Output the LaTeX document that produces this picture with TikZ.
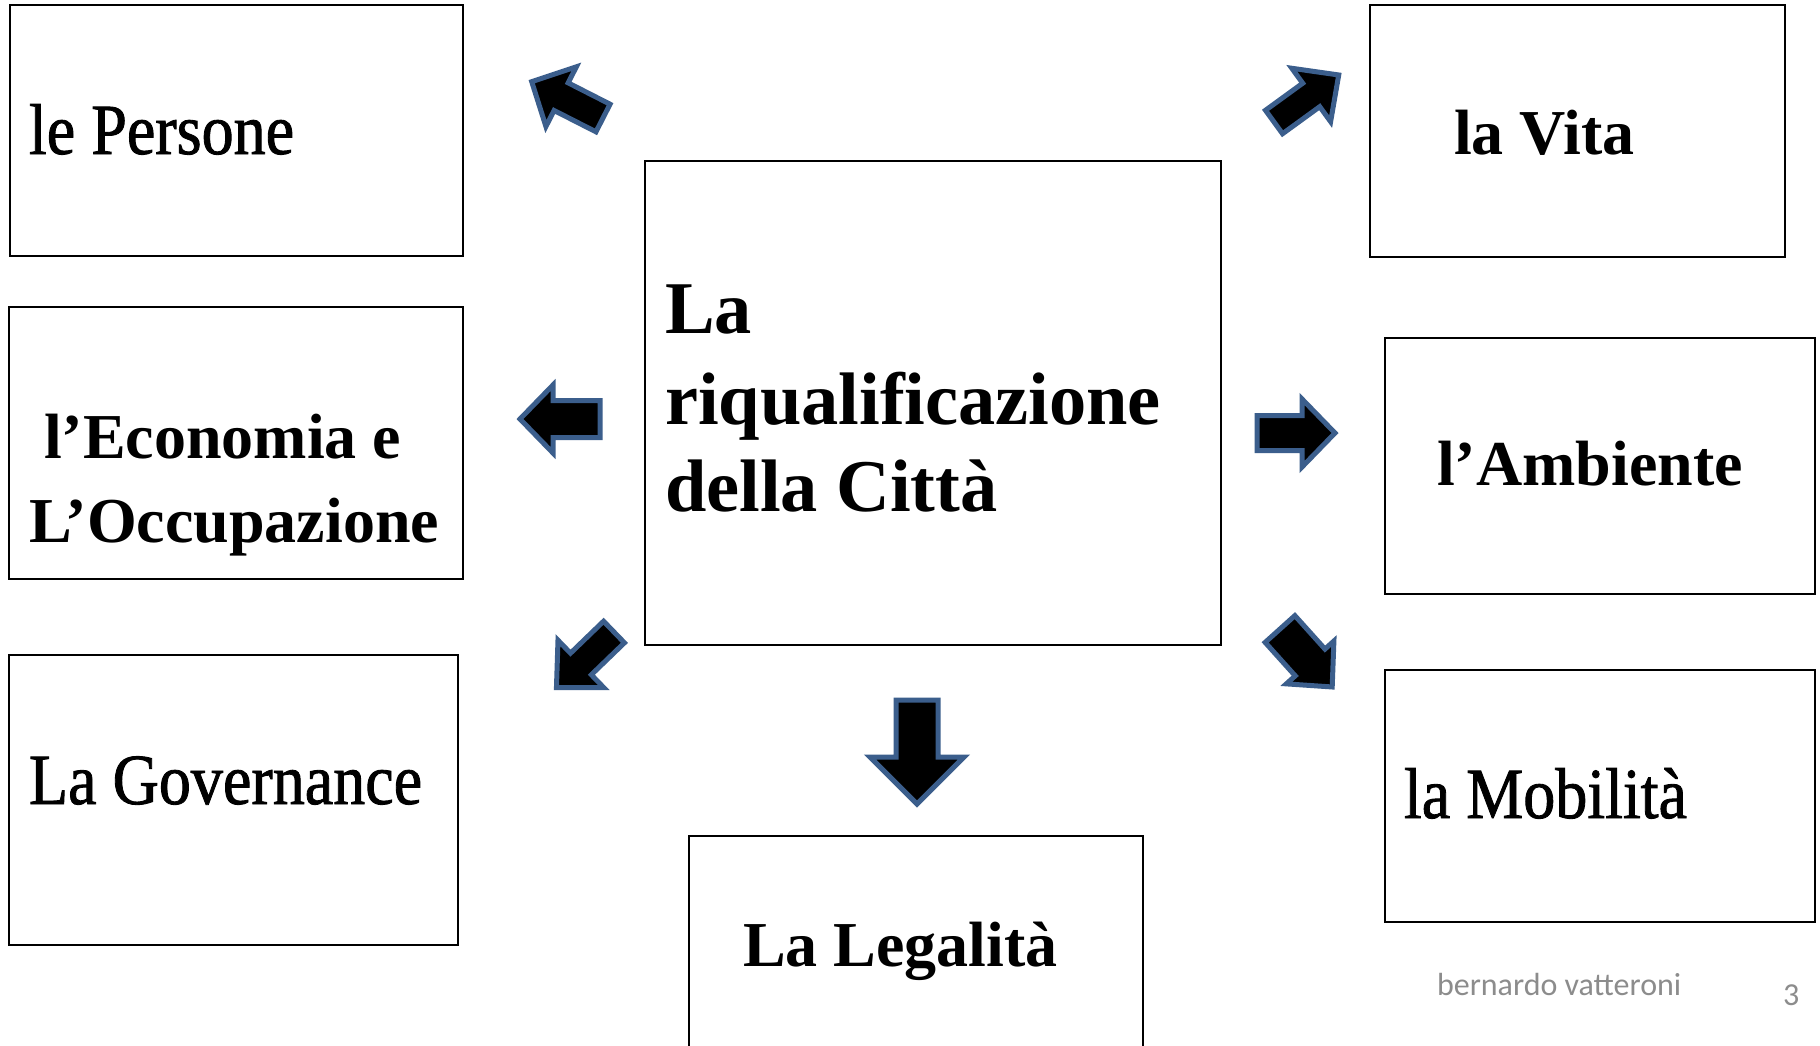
\documentclass[tikz,border=0pt]{standalone}
\usepackage{fontspec}
\setmainfont{Liberation Serif}
\newfontfamily\condfont[FakeStretch=0.89,FakeBold=1.2]{Liberation Serif}
\newfontfamily\footfont{Carlito}
\definecolor{arrowblue}{HTML}{3B5E8C}
\definecolor{footgray}{HTML}{8C8C8C}
\tikzset{
  box/.style={draw=black, line width=1pt, inner sep=0pt, outer sep=0pt, fill=white},
  lbl/.style={anchor=base west, inner sep=0pt, outer sep=0pt},
  boldtxt/.style={lbl, font=\bfseries\fontsize{32pt}{38pt}\selectfont},
  bigtxt/.style={lbl, font=\bfseries\fontsize{37.2pt}{44pt}\selectfont},
  condtxt/.style={lbl, font=\condfont\fontsize{36pt}{43pt}\selectfont},
  foottxt/.style={lbl, text=footgray, font=\footfont\fontsize{16pt}{19pt}\selectfont},
  barrow/.style={draw=arrowblue, fill=black, line width=2.5pt, line join=miter}
}
% name, x, y (tail centre), angle, length, shaft width, head width, head length
\newcommand\blockarrow[8]{%
  \begin{scope}[shift={(#2,#3)}, rotate=#4]
    \coordinate (#1) at (0,0);
    \draw[barrow] (0,-#6/2) -- ({#5-#8},-#6/2) -- ({#5-#8},-#7/2) -- (#5,0)
      -- ({#5-#8},#7/2) -- ({#5-#8},#6/2) -- (0,#6/2) -- cycle;
  \end{scope}}
\begin{document}
\begin{tikzpicture}[x=0.5pt,y=-0.5pt]
\useasboundingbox[fill=white] (0,0) rectangle (1820,1045);

% boxes
\node[box, minimum width=226.5pt, minimum height=125.5pt] (persone) at (236.5,130.5) {};
\node[box, minimum width=227pt, minimum height=136pt] (economia) at (236,443) {};
\node[box, minimum width=224.5pt, minimum height=145pt] (governance) at (233.5,800) {};
\node[box, minimum width=288pt, minimum height=242pt] (centro) at (933,403) {};
\node[box, minimum width=207.5pt, minimum height=126pt] (vita) at (1577.5,131) {};
\node[box, minimum width=215pt, minimum height=128pt] (ambiente) at (1600,466) {};
\node[box, minimum width=215pt, minimum height=126pt] (mobilita) at (1600,796) {};
\node[box, minimum width=227pt, minimum height=112pt] (legalita) at (916,948) {};

% texts
\node[condtxt] (tpersone) at (29,154) {le Persone};
\node[boldtxt] (teco1) at (44,458) {l’Economia e};
\node[boldtxt] (teco2) at (29,542) {L’Occupazione};
\node[condtxt] (tgov) at (29,804) {La Governance};
\node[bigtxt] (tc1) at (665,333) {La};
\node[bigtxt] (tc2) at (665,424) {riqualificazione};
\node[bigtxt] (tc3) at (665,511) {della Città};
\node[boldtxt] (tvita) at (1454,154) {la Vita};
\node[boldtxt] (tamb) at (1437,485) {l’Ambiente};
\node[condtxt] (tmob) at (1404,818) {la Mobilità};
\node[boldtxt] (tleg) at (743,966) {La Legalità};
\node[foottxt] (autore) at (1437,995) {bernardo vatteroni};
\node[foottxt] (pagina) at (1783,1005) {3};

% block arrows
\blockarrow{a1}{603}{118}{153}{80}{31}{67}{33}
\blockarrow{a2}{1274}{122}{36}{80}{29}{66}{34}
\blockarrow{a3}{600}{419}{180}{80}{37}{68}{33}
\blockarrow{a4}{1257}{433}{0}{78}{35}{68}{33}
\blockarrow{a5}{614}{632}{224}{80}{30}{66}{34}
\blockarrow{a6}{1280}{629}{-48}{78}{40}{64}{33}
\blockarrow{a7}{917}{700}{-90}{104}{42}{94}{47}
\end{tikzpicture}
\end{document}
